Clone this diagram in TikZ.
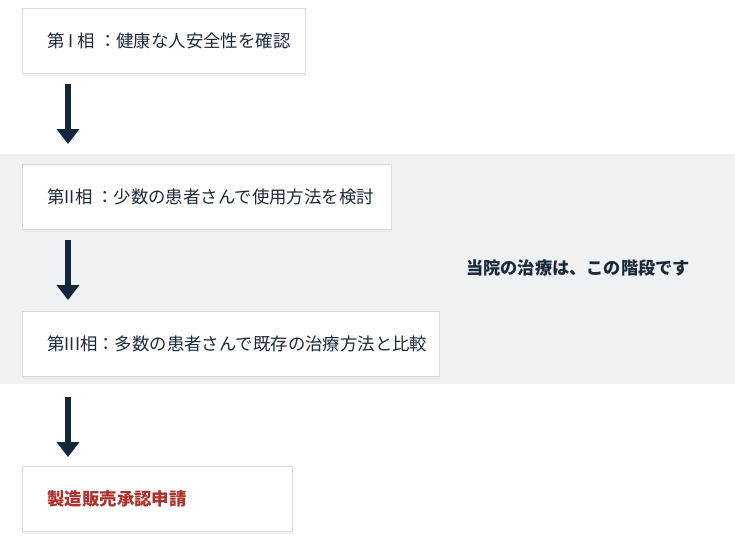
\documentclass[tikz,border=0pt]{standalone}
\usepackage{fontspec}
\setmainfont{Noto Sans CJK JP}
\usetikzlibrary{arrows.meta,shadows}
\definecolor{navy}{HTML}{1B2A3B}
\definecolor{arrowc}{HTML}{13263D}
\definecolor{band}{HTML}{EFF1F3}
\definecolor{redt}{HTML}{B0302C}
\definecolor{edge}{HTML}{DCDCDC}
\newcommand{\boxtext}[2]{\makebox[#1][l]{\hspace*{25pt}#2}}
\tikzset{
  stepbox/.style={draw=edge, line width=1pt, fill=white, anchor=north west,
    inner xsep=0pt, inner ysep=0pt, minimum height=65pt,
    font=\fontsize{17.4}{20}\selectfont, text=navy,
    drop shadow={shadow xshift=0pt, shadow yshift=-2pt, fill=black!10, opacity=0.5}},
  flow/.style={draw=arrowc, line width=6pt, -{Triangle[width=22pt,length=15pt]}},
}
\begin{document}
\begin{tikzpicture}[x=1pt,y=-1pt]
\useasboundingbox (0,0) rectangle (735,543);
\fill[white] (0,0) rectangle (735,543);
\fill[band] (0,154) rectangle (735,384);
\node[stepbox] (b1) at (22,8) {\boxtext{283pt}{第 I 相 ：健康な人安全性を確認}};
\node[stepbox] (b2) at (22,164) {\boxtext{369pt}{第II相 ：少数の患者さんで使用方法を検討}};
\node[stepbox] (b3) at (22,311) {\boxtext{417pt}{第III相：多数の患者さんで既存の治療方法と比較}};
\node[stepbox, text=redt, font=\fontsize{17.4}{20}\selectfont\bfseries] (b4) at (22,466) {\boxtext{270pt}{製造販売承認申請}};
\node[text=navy, font=\fontsize{17.2}{20}\selectfont\bfseries] (side) at (578,268) {当院の治療は、この階段です};
\draw[flow] ([xshift=46pt,yshift=-10pt]b1.south west) -- ([xshift=46pt,yshift=20pt]b2.north west);
\draw[flow] ([xshift=46pt,yshift=-10pt]b2.south west) -- ([xshift=46pt,yshift=11pt]b3.north west);
\draw[flow] ([xshift=46pt,yshift=-20pt]b3.south west) -- ([xshift=46pt,yshift=9pt]b4.north west);
\end{tikzpicture}
\end{document}
